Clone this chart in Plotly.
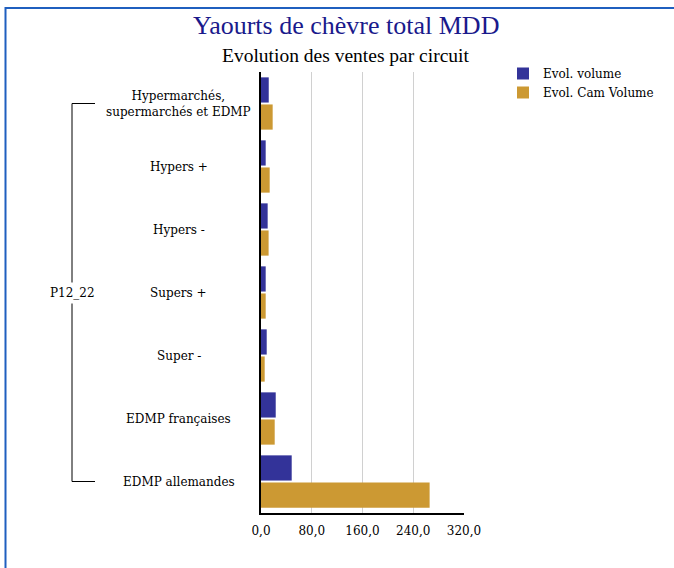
import plotly.graph_objects as go

categories = ["Hypermarchés,<br>supermarchés et EDMP", "Hypers +", "Hypers -", "Supers +",
              "Super -", "EDMP françaises", "EDMP allemandes"]
group_label = "P12_22"
evol_volume = [12.2, 7.4, 10.5, 7.4, 9.0, 23.2, 48.4]
evol_cam_volume = [18.4, 13.7, 12.0, 7.4, 5.8, 21.6, 265.8]
series_names = ["Evol. volume", "Evol. Cam Volume"]
x_ticks = [0, 80, 160, 240, 320]

BLUE = "#333399"
GOLD = "#CC9933"
LABEL_FONT = dict(family="DejaVu Serif", size=12, color="#000000")

W, H = 674, 568
L, R, T, B = 261, 210, 72, 55
pw, ph = W - L - R, H - T - B


def px_x(px):
    return (px - L) / pw


def px_y(py):
    return (H - B - py) / ph


idx = list(range(len(categories)))

fig = go.Figure()
fig.add_trace(go.Bar(y=idx, x=evol_volume, orientation="h", name=series_names[0],
                     marker=dict(color=BLUE, line=dict(width=0))))
fig.add_trace(go.Bar(y=idx, x=evol_cam_volume, orientation="h", name=series_names[1],
                     marker=dict(color=GOLD, line=dict(width=0))))

annotations = []
for i, c in enumerate(categories):
    annotations.append(dict(x=px_x(178.5), xref="paper", y=i, yref="y", text=c,
                            showarrow=False, xanchor="center", yanchor="middle",
                            font=LABEL_FONT, align="center"))
annotations.append(dict(x=px_x(72), xref="paper", y=3, yref="y", text=group_label,
                        showarrow=False, xanchor="center", yanchor="middle",
                        font=LABEL_FONT, bgcolor="#ffffff", borderpad=3))
annotations.append(dict(x=px_x(346), xref="paper", y=px_y(26), yref="paper",
                        text="Yaourts de chèvre total MDD", showarrow=False,
                        xanchor="center", yanchor="middle",
                        font=dict(family="Liberation Serif", size=26, color="#1a1a8c")))
annotations.append(dict(x=px_x(346), xref="paper", y=px_y(55), yref="paper",
                        text="Evolution des ventes par circuit", showarrow=False,
                        xanchor="center", yanchor="middle",
                        font=dict(family="Liberation Serif", size=19.5, color="#000000")))

shapes = [
    # bracket
    dict(type="line", xref="paper", yref="y", x0=px_x(72), x1=px_x(72), y0=0, y1=len(categories) - 1,
         line=dict(color="#000000", width=1)),
    dict(type="line", xref="paper", yref="y", x0=px_x(72), x1=px_x(95), y0=0, y1=0,
         line=dict(color="#000000", width=1)),
    dict(type="line", xref="paper", yref="y", x0=px_x(72), x1=px_x(95),
         y0=len(categories) - 1, y1=len(categories) - 1,
         line=dict(color="#000000", width=1)),
    # frame
    dict(type="rect", xref="paper", yref="paper", x0=px_x(5.5), x1=px_x(700),
         y0=px_y(600), y1=px_y(8), line=dict(color="#1f5fbf", width=2)),
]

fig.update_layout(
    width=W, height=H,
    margin=dict(l=L, r=R, t=T, b=B, autoexpand=False),
    paper_bgcolor="#ffffff", plot_bgcolor="#ffffff",
    barmode="group", bargap=0.14, bargroupgap=0.07,
    separators=", ",
    showlegend=True,
    legend=dict(x=px_x(503), y=px_y(59), xanchor="left", yanchor="top",
                font=LABEL_FONT, bgcolor="rgba(0,0,0,0)", tracegroupgap=0),
    annotations=annotations,
    shapes=shapes,
    xaxis=dict(range=[0, 320], tickvals=x_ticks, tickformat=".1f", showgrid=True,
               gridcolor="#d0d0d0", gridwidth=1, zeroline=False, showline=True,
               linecolor="#000000", linewidth=1.5, ticks="", tickfont=LABEL_FONT,
               ticklabelstandoff=6),
    yaxis=dict(range=[len(categories) - 0.5, -0.5], showticklabels=False, showgrid=False,
               zeroline=False, showline=True, linecolor="#000000", linewidth=1.5, ticks=""),
)

fig.write_html("out.html", config={"displayModeBar": False},
               post_script="document.body.style.margin='0';document.body.style.overflow='hidden';")
